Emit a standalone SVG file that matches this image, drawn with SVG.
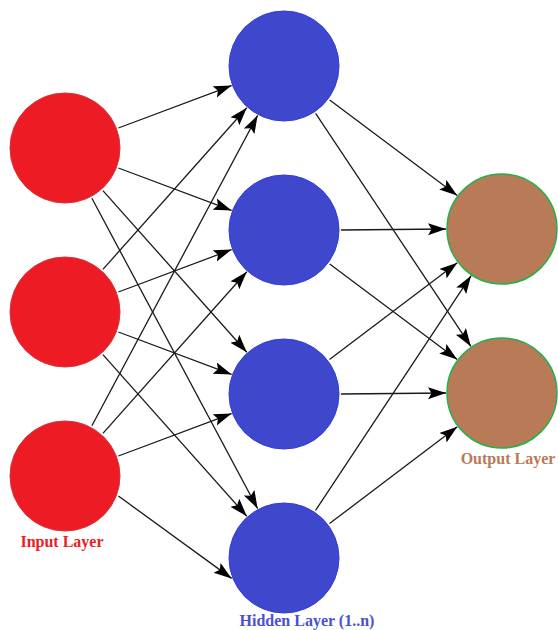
<svg xmlns="http://www.w3.org/2000/svg" width="558" height="630" viewBox="0 0 558 630">
<style>
.in{fill:#ED1C24;stroke:#D8303A;stroke-width:1}
.hid{fill:#3F48CC;stroke:#2F3AE0;stroke-width:1}
.out{fill:#B97A57;stroke:#22B14C;stroke-width:1.5}
.lbl{font-family:"Liberation Serif","Times New Roman",serif;font-weight:bold;font-size:16px;text-anchor:middle}
#conns line{stroke:#1a1a1a;stroke-width:1.3;marker-end:url(#ah)}
</style>
<defs>
<marker id="ah" markerUnits="userSpaceOnUse" markerWidth="19" markerHeight="13" refX="18" refY="6" orient="auto">
<path d="M0,0 L18,6 L0,12 L3.5,6 z" fill="#000"/>
</marker>
</defs>
<rect width="558" height="630" fill="#fff"/>
<g id="conns">
<line x1="118.4" y1="128" x2="231.6" y2="85.6"/>
<line x1="118.4" y1="168" x2="231.6" y2="210.4"/>
<line x1="102.9" y1="190.6" x2="246.8" y2="352.2"/>
<line x1="91.9" y1="198.3" x2="257.6" y2="508.6"/>
<line x1="102.9" y1="269.4" x2="246.8" y2="107.8"/>
<line x1="118.4" y1="292" x2="231.6" y2="249.6"/>
<line x1="118.4" y1="332" x2="231.6" y2="374.4"/>
<line x1="102.9" y1="354.6" x2="246.8" y2="516.2"/>
<line x1="91.9" y1="425.7" x2="257.6" y2="115.4"/>
<line x1="102.9" y1="433.4" x2="246.8" y2="271.8"/>
<line x1="118.4" y1="456" x2="231.6" y2="413.6"/>
<line x1="118.4" y1="496" x2="231.6" y2="578.4"/>
<line x1="329.7" y1="100.1" x2="457.2" y2="195.5"/>
<line x1="315.6" y1="113.4" x2="470.9" y2="346.4"/>
<line x1="341" y1="230" x2="446" y2="229"/>
<line x1="329.7" y1="264.1" x2="457.2" y2="359.5"/>
<line x1="329.5" y1="359.6" x2="457.3" y2="262.8"/>
<line x1="341" y1="394" x2="446" y2="393"/>
<line x1="315.5" y1="510.5" x2="471.1" y2="275.7"/>
<line x1="329.5" y1="523.6" x2="457.3" y2="426.8"/>
</g>
<g id="input1"><circle class="in" cx="65" cy="148" r="55"/></g>
<g id="input2"><circle class="in" cx="65" cy="312" r="55"/></g>
<g id="input3"><circle class="in" cx="65" cy="476" r="55"/></g>
<g id="hidden1"><circle class="hid" cx="284" cy="66" r="55"/></g>
<g id="hidden2"><circle class="hid" cx="284" cy="230" r="55"/></g>
<g id="hidden3"><circle class="hid" cx="284" cy="394" r="55"/></g>
<g id="hidden4"><circle class="hid" cx="284" cy="558" r="55"/></g>
<g id="output1"><circle class="out" cx="502" cy="229" r="55"/></g>
<g id="output2"><circle class="out" cx="502" cy="393" r="55"/></g>
<g id="labels">
<text class="lbl" x="62" y="547" fill="#ED1C24">Input Layer</text>
<text class="lbl" x="307" y="626" fill="#4A50D2">Hidden Layer (1..n)</text>
<text class="lbl" x="508" y="464" font-size="15.5" fill="#B97A57">Output Layer</text>
</g>
</svg>
